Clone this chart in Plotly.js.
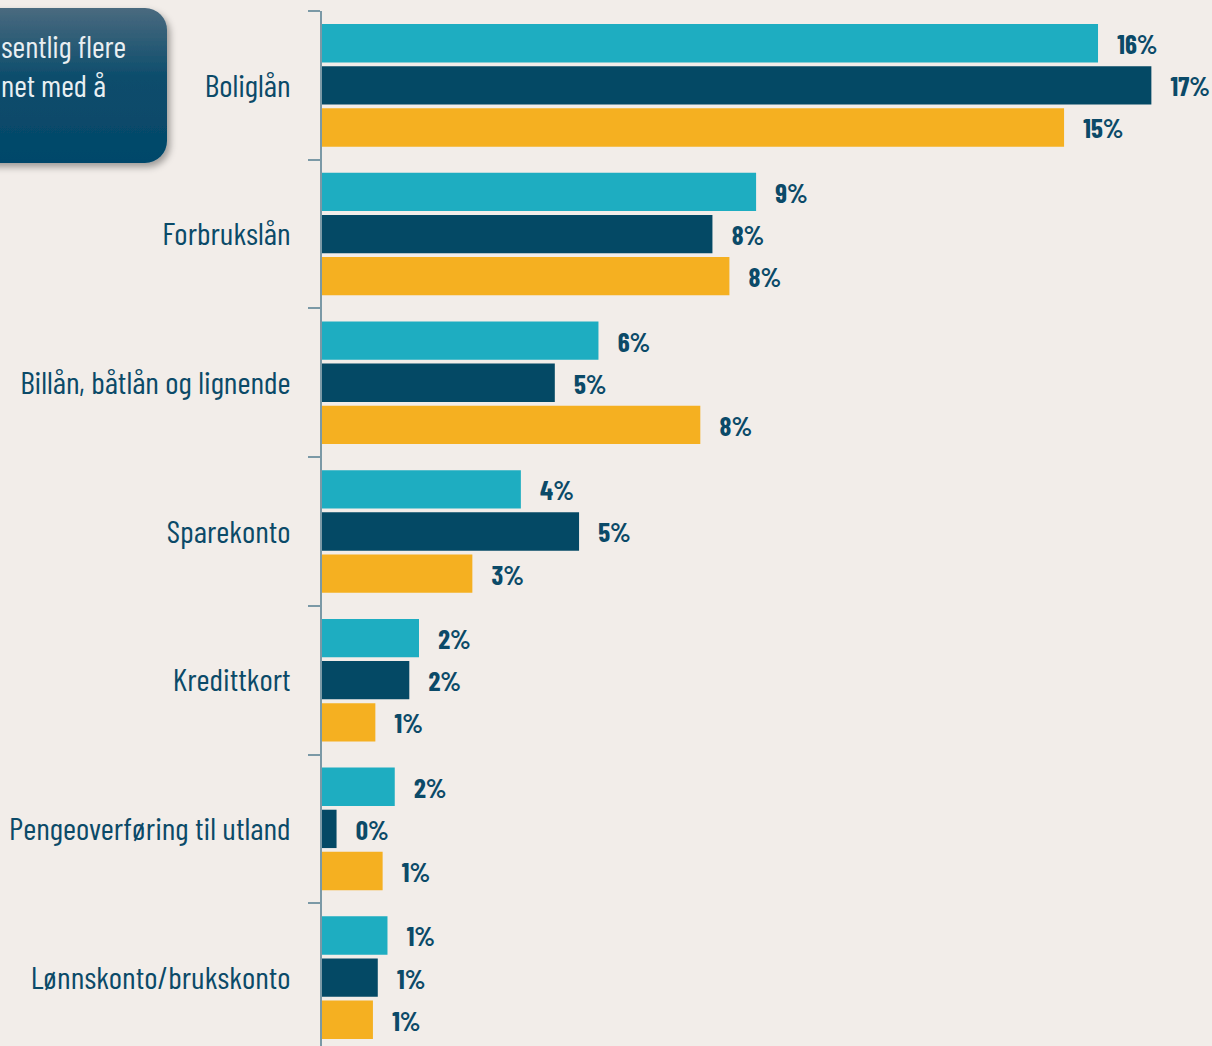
<!DOCTYPE html>
<html>
<head>
<meta charset="utf-8">
<script src="https://cdn.plot.ly/plotly-3.0.1.min.js"></script>
<style>
html,body{margin:0;padding:0;background:#f2ede9;overflow:hidden;}
#chart{width:1212px;height:1046px;}
</style>
</head>
<body>
<div id="chart"></div>
<script>
const categories = ["Boliglån","Forbrukslån","Billån, båtlån og lignende","Sparekonto","Kredittkort","Pengeoverføring til utland","Lønnskonto/brukskonto"];
const seriesNames = ["Serie 1","Serie 2","Serie 3"];
const valuesTeal   = [16.0, 8.95, 5.7, 4.1, 2.0, 1.5, 1.35];
const valuesNavy   = [17.1, 8.05, 4.8, 5.3, 1.8, 0.3, 1.15];
const valuesOrange = [15.3, 8.4, 7.8, 3.1, 1.1, 1.25, 1.05];
const labelsTeal   = ["16%","9%","6%","4%","2%","2%","1%"];
const labelsNavy   = ["17%","8%","5%","5%","2%","0%","1%"];
const labelsOrange = ["15%","8%","8%","3%","1%","1%","1%"];
const boxLines = ["sentlig flere","net med å"];

const FONT = "'Barlow Condensed', 'Barlow Semi Condensed', 'Roboto Condensed', sans-serif";
const LABEL_COLOR = "#0b4a68";
const pad = "\u00a0\u00a0\u00a0";

function barTrace(name, vals, labels, color){
  return {
    type: "bar", orientation: "h", name: name,
    y: categories, x: vals,
    text: labels.map(t => pad + t),
    textposition: "outside", cliponaxis: false, constraintext: "none",
    textfont: {family: FONT, size: 27, color: LABEL_COLOR, weight: 700},
    marker: {color: color, line: {width: 0}},
    hoverinfo: "skip"
  };
}

const data = [
  barTrace(seriesNames[0], valuesTeal, labelsTeal, "#1eadc1"),
  barTrace(seriesNames[1], valuesNavy, labelsNavy, "#044965"),
  barTrace(seriesNames[2], valuesOrange, labelsOrange, "#f5b021")
];

// pixel helpers for the decorative box (plot area: l=322, t=11, w=890, h=1035)
const L = 322, T = 11, W = 890, H = 1035;
const px = x => (x - L) / W;
const py = y => 1 - (y - T) / H;

const boxSvg = `<svg xmlns='http://www.w3.org/2000/svg' width='240' height='185' viewBox='0 0 240 185'>
<defs>
<linearGradient id='g' x1='0' y1='0' x2='0' y2='1'>
<stop offset='0' stop-color='#4a6a7f'/>
<stop offset='0.45' stop-color='#0c4d6c'/>
<stop offset='1' stop-color='#03476a'/>
</linearGradient>
<filter id='s' x='-20%' y='-20%' width='140%' height='140%'>
<feDropShadow dx='3' dy='4' stdDeviation='3.5' flood-color='#000' flood-opacity='0.35'/>
</filter>
</defs>
<rect x='0' y='8' width='217' height='155' rx='22' ry='22' fill='url(#g)' filter='url(#s)'/>
</svg>`;
const boxUri = "data:image/svg+xml;charset=utf-8," + encodeURIComponent(boxSvg);

const layout = {
  width: 1212, height: 1046,
  paper_bgcolor: "#f2ede9", plot_bgcolor: "#f2ede9",
  margin: {l: L, r: 0, t: T, b: 0, pad: 0},
  showlegend: false,
  barmode: "group", bargap: 0.15, bargroupgap: 0.09,
  hovermode: false,
  font: {family: FONT, color: LABEL_COLOR},
  xaxis: {range: [0, 18.35], visible: false, fixedrange: true},
  yaxis: {
    type: "category", range: [6.46, -0.5],
    showline: true, linecolor: "#7b99a6", linewidth: 2,
    ticks: "outside", tickson: "boundaries", ticklen: 12, tickwidth: 2, tickcolor: "#7b99a6",
    ticklabelstandoff: 23,
    showgrid: false, zeroline: false,
    tickfont: {family: FONT, size: 32, color: LABEL_COLOR},
    fixedrange: true
  },
  images: [{
    source: boxUri, xref: "paper", yref: "paper",
    x: px(-50), y: py(0), sizex: 240 / W, sizey: 185 / H,
    xanchor: "left", yanchor: "top", sizing: "stretch", layer: "above"
  }],
  annotations: boxLines.map((t, i) => ({
    text: t, xref: "paper", yref: "paper",
    x: px(-1), y: py(45 + i * 39), xanchor: "left", yanchor: "middle",
    showarrow: false, font: {family: FONT, size: 31, color: "#e9eff2"}
  }))
};

Plotly.newPlot("chart", data, layout, {displayModeBar: false, staticPlot: true});
</script>
</body>
</html>
